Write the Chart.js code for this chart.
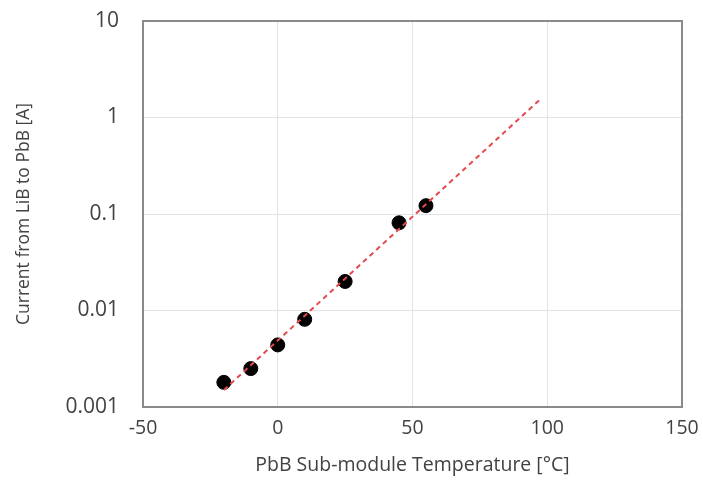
<!DOCTYPE html>
<html>
<head>
<meta charset="utf-8">
<script src="https://cdn.jsdelivr.net/npm/chart.js@4"></script>
<style>
  html, body { margin: 0; padding: 0; background: #fff; }
  #chart { display: block; }
</style>
</head>
<body>
<canvas id="chart" width="703" height="501"></canvas>
<script>
// measured data
const temps = [-20, -10, 0, 10, 25, 45, 55];
const currents = [0.0018, 0.0025, 0.0044, 0.0081, 0.020, 0.081, 0.122];

// exponential trendline end points
const trendTemps = [-20, 98];
const trendCurrents = [0.0015, 1.6];

const yTicks = [0.001, 0.01, 0.1, 1, 10];
const xTicks = [-50, 0, 50, 100, 150];

const textColor = '#424242';
const fontFamily = "'Open Sans', sans-serif";

// frame round the plot area
const frame = {
    id: 'frame',
    afterDatasetsDraw(chart) {
        const a = chart.chartArea;
        const ctx = chart.ctx;
        ctx.save();
        ctx.strokeStyle = '#8a8a8a';
        ctx.lineWidth = 2;
        ctx.strokeRect(a.left, a.top, a.right - a.left, a.bottom - a.top);
        ctx.restore();
    }
};

new Chart(document.getElementById('chart'), {
    type: 'scatter',
    data: {
        datasets: [
            {
                type: 'line',
                data: trendTemps.map((t, i) => ({ x: t, y: trendCurrents[i] })),
                borderColor: '#e5484d',
                borderWidth: 2,
                borderDash: [5, 4],
                pointRadius: 0,
                fill: false,
                order: 0
            },
            {
                data: temps.map((t, i) => ({ x: t, y: currents[i] })),
                backgroundColor: '#000',
                borderColor: '#000',
                pointRadius: 7,
                order: 1
            }
        ]
    },
    plugins: [frame],
    options: {
        responsive: false,
        animation: false,
        layout: { padding: { top: 21, right: 21, left: 0, bottom: 0 } },
        plugins: {
            legend: { display: false },
            tooltip: { enabled: false }
        },
        scales: {
            x: {
                type: 'linear',
                min: -50,
                max: 150,
                afterBuildTicks: (scale) => {
                    scale.ticks = xTicks.map(v => ({ value: v }));
                },
                afterFit: (scale) => {
                    scale.height = 94;
                    scale.paddingLeft = 0;
                    scale.paddingRight = 0;
                },
                grid: { color: '#e3e3e3', drawTicks: false },
                border: { display: false },
                ticks: {
                    color: textColor,
                    padding: 10,
                    font: { family: fontFamily, size: 19.5 }
                },
                title: {
                    display: true,
                    text: 'PbB Sub-module Temperature [°C]',
                    color: textColor,
                    font: { family: fontFamily, size: 19.5 },
                    padding: { top: 0, bottom: 24 }
                }
            },
            y: {
                type: 'logarithmic',
                min: 0.001,
                max: 10,
                afterBuildTicks: (scale) => {
                    scale.ticks = yTicks.map(v => ({ value: v }));
                },
                afterFit: (scale) => {
                    scale.width = 143;
                    scale.paddingTop = 0;
                    scale.paddingBottom = 0;
                },
                grid: { color: '#e3e3e3', drawTicks: false },
                border: { display: false },
                ticks: {
                    color: textColor,
                    padding: 24,
                    font: { family: fontFamily, size: 21 },
                    callback: (v) => String(v)
                },
                title: {
                    display: true,
                    text: 'Current from LiB to PbB [A]',
                    color: textColor,
                    font: { family: fontFamily, size: 17.5 },
                    padding: { top: 14, bottom: 0 }
                }
            }
        }
    }
});
</script>
</body>
</html>
